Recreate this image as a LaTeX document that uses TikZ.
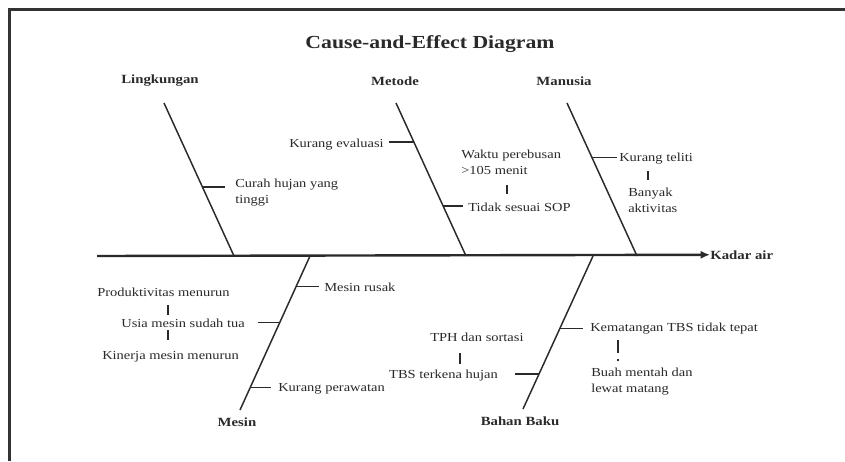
\documentclass[tikz,border=0pt]{standalone}
\usepackage{fontspec}
\setmainfont{Liberation Serif}[FakeStretch=1.18]
\usetikzlibrary{arrows.meta,calc}
\definecolor{ink}{HTML}{2A2A2A}
\definecolor{frame}{HTML}{333333}
\begin{document}
\begin{tikzpicture}[x=0.75pt,y=-0.75pt,
  txt/.style={font=\fontsize{9.2}{12.5}\selectfont, inner sep=0pt, text=ink},
  lbl/.style={font=\fontsize{9.4}{12}\selectfont\bfseries, inner sep=0pt, text=ink},
  bone/.style={line width=1.1pt, draw=ink},
  tick/.style={line width=0.8pt, draw=ink},
  bar/.style={line width=0.8pt, draw=ink}]
\useasboundingbox (0,0) rectangle (845,461);
\fill[white] (0,0) rectangle (845,461);
\draw[line width=2pt, draw=frame] (9.5,461) -- (9.5,9.5) -- (845,9.5);

% title
\node[font=\fontsize{13.8}{16}\selectfont\bfseries, text=ink, inner sep=0pt] (title) at (430,44) {Cause-and-Effect Diagram};

% spine
\coordinate (tail) at (97,256);
\node[lbl, anchor=mid west] (effect) at (710,256) {Kadar air};
\draw[line width=1.8pt, draw=ink, -{Latex[length=7pt,width=6pt]}] (tail) -- (effect.west);

% category labels
\node[lbl] (ling) at (160,81) {Lingkungan};
\node[lbl] (met) at (395,81) {Metode};
\node[lbl] (man) at (564,81) {Manusia};
\node[lbl] (mes) at (237,422) {Mesin};
\node[lbl] (bb) at (520,421) {Bahan Baku};

% bone ends
\coordinate (lingtop) at (164,103); \coordinate (lingbot) at (234,256);
\coordinate (mettop) at (396,103);  \coordinate (metbot) at (466,256);
\coordinate (mantop) at (567,103);  \coordinate (manbot) at (637,256);
\coordinate (mestop) at (240,410);  \coordinate (mesbot) at (310,256);
\coordinate (bbtop) at (523,409);   \coordinate (bbbot) at (593,256);

\draw[bone] (lingtop) -- (lingbot);
\draw[bone] (mettop) -- (metbot);
\draw[bone] (mantop) -- (manbot);
\draw[bone] (mestop) -- (mesbot);
\draw[bone] (bbtop) -- (bbbot);

% ---- Lingkungan
\coordinate (k1) at ($(lingtop)!0.549!(lingbot)$);
\node[txt, anchor=north west, align=left] (curah) at (235,178.5) {Curah hujan yang\\tinggi};
\draw[tick] (k1) -- ++(23,0);

% ---- Metode
\coordinate (k2) at ($(mettop)!0.255!(metbot)$);
\node[txt, anchor=mid east] (keval) at (384,144) {Kurang evaluasi};
\draw[tick] (k2) -- ++(-25,0);
\coordinate (k3) at ($(mettop)!0.673!(metbot)$);
\node[txt, anchor=mid west] (sop) at (468,208) {Tidak sesuai SOP};
\draw[tick] (k3) -- ++(20,0);
\node[txt, anchor=north west, align=left] (waktu) at (461,149.5) {Waktu perebusan\\>105 menit};
\coordinate (b1a) at (507,185); \coordinate (b1b) at (507,194);
\draw[bar] (b1a) -- (b1b);

% ---- Manusia
\coordinate (k4) at ($(mantop)!0.359!(manbot)$);
\node[txt, anchor=mid west] (teliti) at (619,158) {Kurang teliti};
\draw[tick] (k4) -- ++(25,0);
\node[txt, anchor=north west, align=left] (banyak) at (628,187.5) {Banyak\\aktivitas};
\coordinate (b2a) at (648,171); \coordinate (b2b) at (648,180);
\draw[bar] (b2a) -- (b2b);

% ---- Mesin
\coordinate (k5) at ($(mesbot)!0.201!(mestop)$);
\node[txt, anchor=mid west] (rusak) at (324,288) {Mesin rusak};
\draw[tick] (k5) -- ++(23,0);
\coordinate (k6) at ($(mesbot)!0.429!(mestop)$);
\node[txt, anchor=mid east] (usia) at (245,324) {Usia mesin sudah tua};
\draw[tick] (k6) -- ++(-22,0);
\node[txt, anchor=mid west] (prod) at (97,293) {Produktivitas menurun};
\node[txt, anchor=mid west] (kin) at (102,356) {Kinerja mesin menurun};
\coordinate (b3a) at (168,305); \coordinate (b3b) at (168,315);
\coordinate (b4a) at (168,330); \coordinate (b4b) at (168,340);
\draw[bar] (b3a) -- (b3b);
\draw[bar] (b4a) -- (b4b);
\coordinate (k7) at ($(mesbot)!0.851!(mestop)$);
\node[txt, anchor=mid west] (rawat) at (278,388) {Kurang perawatan};
\draw[tick] (k7) -- ++(21,0);

% ---- Bahan Baku
\coordinate (k8) at ($(bbbot)!0.471!(bbtop)$);
\node[txt, anchor=mid west] (matang) at (590,328) {Kematangan TBS tidak tepat};
\draw[tick] (k8) -- ++(23,0);
\coordinate (b5a) at (618,340); \coordinate (b5b) at (618,361);
\draw[bar, dash pattern=on 10pt off 4.5pt on 4pt] (b5a) -- (b5b);
\node[txt, anchor=north west, align=left] (buah) at (591,367.5) {Buah mentah dan\\lewat matang};
\coordinate (k9) at ($(bbbot)!0.771!(bbtop)$);
\node[txt, anchor=mid east] (tbs) at (498,375) {TBS terkena hujan};
\draw[tick] (k9) -- ++(-24,0);
\node[txt, anchor=mid west] (tph) at (430,338) {TPH dan sortasi};
\coordinate (b6a) at (460,353); \coordinate (b6b) at (460,364);
\draw[bar] (b6a) -- (b6b);
\end{tikzpicture}
\end{document}
